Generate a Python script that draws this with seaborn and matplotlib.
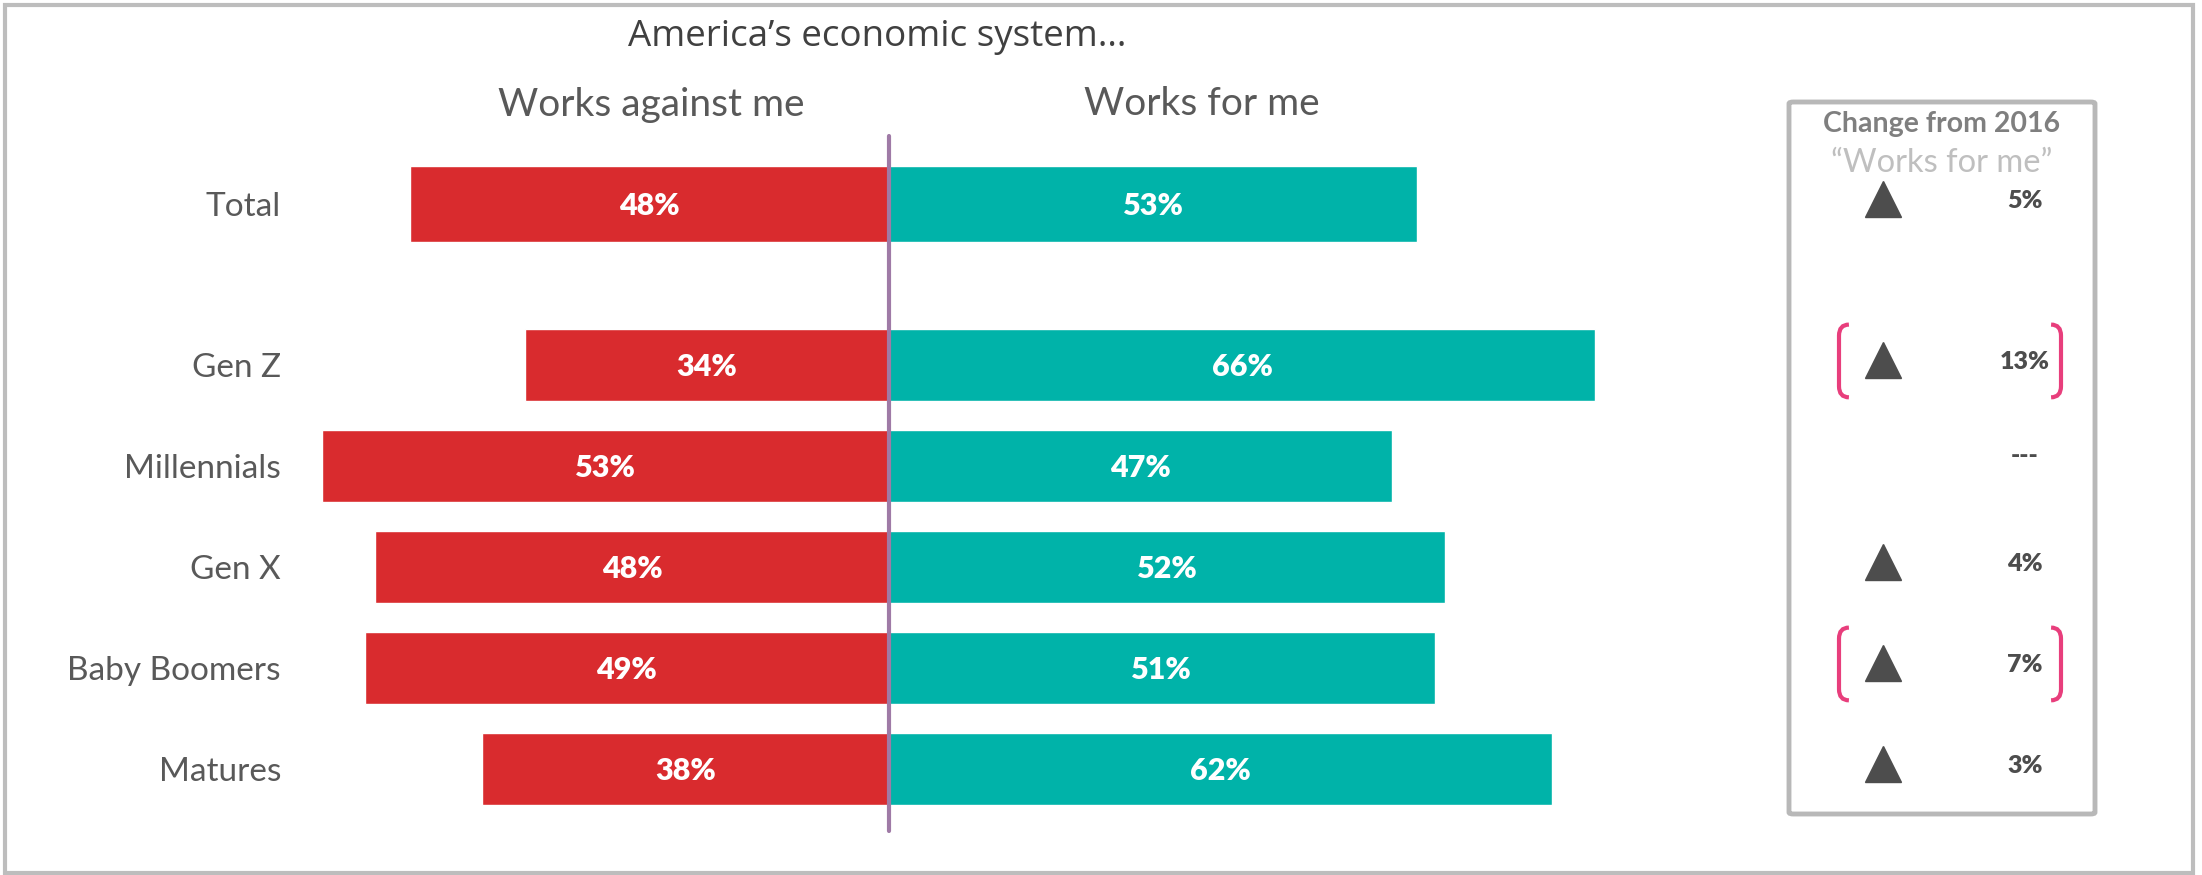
import matplotlib
matplotlib.use("Agg")
import matplotlib.pyplot as plt
import matplotlib.transforms as mtransforms
from matplotlib.patches import FancyBboxPatch, Rectangle, PathPatch
from matplotlib.path import Path
import pandas as pd
import seaborn as sns

# Data
groups = ["Total", "Gen Z", "Millennials", "Gen X", "Baby Boomers", "Matures"]
works_against = [48, 34, 53, 48, 49, 38]
works_for = [53, 66, 47, 52, 51, 62]
change_2016 = [5, 13, None, 4, 7, 3]
highlight = [False, True, False, False, True, False]

RED = "#D92B2E"
TEAL = "#00B3A9"
PURPLE = "#9F7AA6"
PINK = "#E83E7C"
DARK = "#4D4D4D"
LABEL = "#595959"

sns.set_theme(style="white")
plt.rcParams["font.family"] = ["Lato", "DejaVu Sans"]

W, H = 2202, 875
fig = plt.figure(figsize=(W / 100, H / 100), dpi=100)


def rect(left, top, right, bottom):
    return [left / W, 1 - bottom / H, (right - left) / W, (bottom - top) / H]


CENTER = 889
AX_L, AX_R = 290, 1702
ax_top = fig.add_axes(rect(AX_L, 153, AX_R, 254.3))
ax_bot = fig.add_axes(rect(AX_L, 314.5, AX_R, 819.5))

df = pd.DataFrame({
    "group": groups,
    "against": [-v for v in works_against],
    "for": works_for,
})

panels = [(ax_top, df.iloc[:1], 0.75, 9.97), (ax_bot, df.iloc[1:], 0.72, 10.7)]
for ax, d, bw, scale in panels:
    sns.barplot(data=d, y="group", x="against", color=RED, saturation=1,
                width=bw, ax=ax)
    sns.barplot(data=d, y="group", x="for", color=TEAL, saturation=1,
                width=bw, ax=ax)
    for i, (a, f) in enumerate(zip(d["against"], d["for"])):
        ax.text(a / 2, i + 0.02, f"{-a}%", ha="center", va="center", color="white",
                fontsize=22, fontweight="heavy")
        ax.text(f / 2, i + 0.02, f"{f}%", ha="center", va="center", color="white",
                fontsize=22, fontweight="heavy")
    ax.set_xlim((AX_L - CENTER) / scale, (AX_R - CENTER) / scale)
    n = len(d)
    ax.set_ylim(n - 0.5, -0.5)
    ax.set_xticks([])
    ax.set_xlabel("")
    ax.set_ylabel("")
    ax.tick_params(axis="y", length=0, pad=6.5, labelsize=24, labelcolor=LABEL)
    for s in ax.spines.values():
        s.set_visible(False)
    ax.patch.set_alpha(0)

# center divider line
trans_line = mtransforms.blended_transform_factory(ax_bot.transData, fig.transFigure)
ax_bot.plot([0, 0], [1 - 831 / H, 1 - 136 / H], transform=trans_line,
            color=PURPLE, lw=3, clip_on=False, zorder=5)

# headers
fig.text(877 / W, 1 - 37 / H, "America\u2019s economic system\u2026", ha="center",
         va="center", fontsize=26.5, color="#404040", family=["Open Sans", "DejaVu Sans"])
fig.text(651 / W, 1 - 105 / H, "Works against me", ha="center", va="center",
         fontsize=28, color=LABEL)
fig.text(1202 / W, 1 - 104 / H, "Works for me", ha="center", va="center",
         fontsize=28, color=LABEL)

# outer frame
fig.add_artist(Rectangle((5 / W, 2 / H), 2188 / W, 868 / H, transform=fig.transFigure,
                         fill=False, ec="#BDBDBD", lw=3))

# change panel
fig.add_artist(FancyBboxPatch((1789 / W, 1 - 814 / H), 306 / W, 712 / H,
                              boxstyle="round,pad=0,rounding_size=0.002",
                              transform=fig.transFigure, fill=False,
                              ec="#B8B8B8", lw=3.5))
fig.text(1942 / W, 1 - 124 / H, "Change from 2016", ha="center", va="center",
         fontsize=20.5, fontweight="bold", color="#7F7F7F")
fig.text(1942 / W, 1 - 163 / H, "\u201cWorks for me\u201d", ha="center", va="center",
         fontsize=23.5, color="#BFBFBF")

rows = [(ax_top, 0)] + [(ax_bot, i) for i in range(5)]
TRI_X, VAL_X = 1883 / W, 2025 / W
BR_L, BR_R, HOOK = 1839 / W, 2061 / W, 0.0045
for (ax, i), ch, hl in zip(rows, change_2016, highlight):
    tr = mtransforms.blended_transform_factory(fig.transFigure, ax.transData)
    if ch is None:
        ax.text(VAL_X, i - 0.1, "---", transform=tr, ha="center", va="center",
                fontsize=18, fontweight="heavy", color=DARK, clip_on=False)
        continue
    ax.plot([TRI_X], [i - 0.05], marker="^", ms=26, color=DARK, transform=tr,
            clip_on=False, linestyle="none")
    ax.text(VAL_X, i - 0.03, f"{ch}%", transform=tr, ha="center", va="center",
            fontsize=18, fontweight="heavy", color=DARK, clip_on=False)
    if hl:
        for x0, dx in [(BR_L, HOOK), (BR_R, -HOOK)]:
            verts = [(x0 + dx, i - 0.4), (x0, i - 0.4), (x0, i - 0.29),
                     (x0, i + 0.21), (x0, i + 0.32), (x0 + dx, i + 0.32)]
            codes = [Path.MOVETO, Path.CURVE3, Path.CURVE3,
                     Path.LINETO, Path.CURVE3, Path.CURVE3]
            ax.add_patch(PathPatch(Path(verts, codes), transform=tr, fill=False,
                                   ec=PINK, lw=3, clip_on=False))

fig.savefig("out.png", dpi=100)
